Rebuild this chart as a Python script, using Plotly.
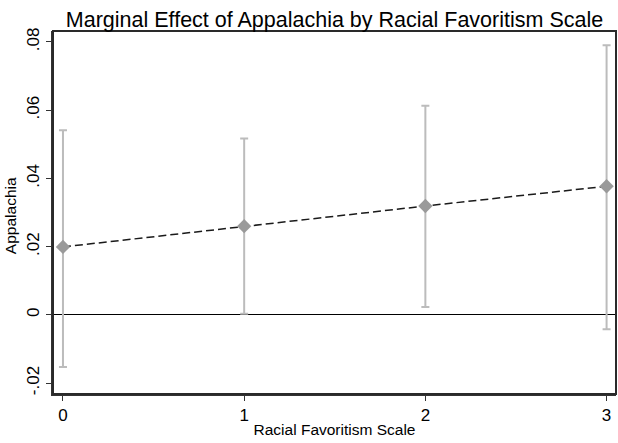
import plotly.graph_objects as go

# Data
x_vals = [0, 1, 2, 3]
estimates = [0.0199, 0.0260, 0.0319, 0.0377]
upper_ci = [0.0541, 0.0517, 0.0613, 0.0790]
lower_ci = [-0.0153, 0.0003, 0.0023, -0.0042]
y_tick_vals = [-0.02, 0, 0.02, 0.04, 0.06, 0.08]
y_tick_text = ["-.02", "0", ".02", ".04", ".06", ".08"]
x_tick_vals = [0, 1, 2, 3]
x_tick_text = ["0", "1", "2", "3"]

err_plus = [u - e for u, e in zip(upper_ci, estimates)]
err_minus = [e - l for e, l in zip(estimates, lower_ci)]

FONT = "Liberation Sans, Arial, Helvetica, sans-serif"

W, H = 618, 443
L, R, T, B = 53, 2, 31, 49
PW = W - L - R

fig = go.Figure()

fig.add_trace(go.Scatter(
    x=x_vals, y=estimates, mode="lines",
    line=dict(color="#1a1a1a", width=1.5, dash="8px,4px"),
    hoverinfo="skip", showlegend=False, cliponaxis=False,
))

fig.add_trace(go.Scatter(
    x=x_vals, y=estimates, mode="markers",
    marker=dict(symbol="diamond", size=11, color="#9a9a9a", line=dict(width=0)),
    error_y=dict(type="data", symmetric=False, array=err_plus, arrayminus=err_minus,
                 color="#bcbcbc", thickness=2, width=4),
    showlegend=False, cliponaxis=False,
))

fig.update_layout(
    width=W, height=H,
    margin=dict(l=L, r=R, t=T, b=B, autoexpand=False),
    paper_bgcolor="white", plot_bgcolor="white",
    font=dict(family=FONT, color="black"),
    title=dict(text="Marginal Effect of Appalachia by Racial Favoritism Scale",
               x=(L + W - R) / 2 / W, xanchor="center", y=1 - 19 / H, yanchor="middle",
               font=dict(size=21.5, family=FONT, color="black")),
    xaxis=dict(
        range=[-0.055, 3.052], tickvals=x_tick_vals, ticktext=x_tick_text,
        showgrid=False, zeroline=False, automargin=False,
        showline=True, linecolor="#333333", linewidth=1.5,
        ticks="outside", ticklen=5, tickcolor="#333333", tickwidth=1,
        tickfont=dict(size=17), title=dict(text="Racial Favoritism Scale", font=dict(size=15.5), standoff=0),
    ),
    yaxis=dict(
        range=[-0.0232, 0.0832], tickvals=y_tick_vals, ticktext=y_tick_text,
        tickangle=-90, automargin=False,
        showgrid=False, zeroline=True, zerolinecolor="black", zerolinewidth=1.3,
        showline=True, linecolor="#333333", linewidth=1.5,
        ticks="outside", ticklen=5, tickcolor="#333333", tickwidth=1,
        tickfont=dict(size=17),
    ),
    shapes=[dict(type="rect", xref="paper", yref="paper", x0=0, x1=1, y0=0, y1=1,
                 line=dict(color="#2a2a2a", width=2), fillcolor="rgba(0,0,0,0)", layer="above")],
    annotations=[dict(text="Appalachia", xref="paper", yref="paper",
                      x=(10 - L) / PW, y=0.49, xanchor="center", yanchor="middle",
                      textangle=-90, showarrow=False, font=dict(size=15.5, family=FONT, color="black"))],
)

fig.write_html("out.html", config={"displayModeBar": False},
               post_script="document.body.style.margin='0';document.body.style.overflow='hidden';")
